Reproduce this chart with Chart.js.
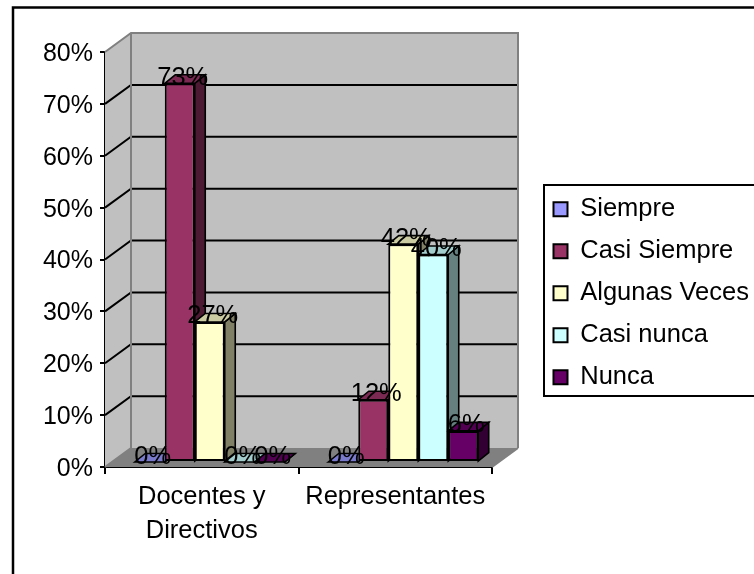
<!DOCTYPE html>
<html>
<head>
<meta charset="utf-8">
<style>html,body{margin:0;padding:0;background:#fff}canvas{display:block}</style>
<script src="https://cdn.jsdelivr.net/npm/chart.js@4"></script>
</head>
<body>
<canvas id="c" width="754" height="574"></canvas>
<script>
const categories = [["Docentes y", "Directivos"], "Representantes"];
const siempre = [0, 0];
const casiSiempre = [73, 12];
const algunasVeces = [27, 42];
const casiNunca = [0, 40];
const nunca = [0, 6];
const FONT = 'Liberation Sans, Arial, sans-serif';
const SIZE = 25;
const WIDE = 25.5;
const WALL = {dx: 26, dy: -19};
const PLANE = {dx: 8, dy: -5};
const BAR = {dx: 10.5, dy: -8.5};

function shade(hex, f) {
  const n = parseInt(hex.slice(1), 16);
  const c = [n >> 16, (n >> 8) & 255, n & 255].map(v => Math.round(v * f));
  return `rgb(${c[0]},${c[1]},${c[2]})`;
}
function poly(ctx, pts, fill, stroke, w) {
  ctx.beginPath();
  pts.forEach((p, i) => i ? ctx.lineTo(p[0], p[1]) : ctx.moveTo(p[0], p[1]));
  ctx.closePath();
  if (fill) { ctx.fillStyle = fill; ctx.fill(); }
  if (stroke) { ctx.strokeStyle = stroke; ctx.lineWidth = w; ctx.stroke(); }
}
const threeD = {
  id: 'threeD',
  beforeDraw(chart) {
    const ctx = chart.ctx;
    ctx.save();
    ctx.strokeStyle = '#000';
    ctx.lineWidth = 2.5;
    ctx.strokeRect(13, 7.5, 760, 600);
    ctx.lineWidth = 2;
    ctx.strokeRect(544, 185, 240, 211);
    ctx.restore();
  },
  afterLayout(chart) {
    const l = chart.legend;
    l.left = 537; l.right = 754; l.top = 180; l.bottom = 574;
  },
  beforeDatasetsDraw(chart) {
    const ctx = chart.ctx, a = chart.chartArea, y = chart.scales.y;
    const {dx, dy} = WALL;
    ctx.save();
    poly(ctx, [[a.left + dx, a.top + dy], [a.right + dx, a.top + dy], [a.right + dx, a.bottom + dy], [a.left + dx, a.bottom + dy]], '#C0C0C0');
    poly(ctx, [[a.left, a.top], [a.left + dx, a.top + dy], [a.left + dx, a.bottom + dy], [a.left, a.bottom]], '#C0C0C0');
    poly(ctx, [[a.left, a.bottom], [a.left + dx, a.bottom + dy], [a.right + dx, a.bottom + dy], [a.right, a.bottom]], '#808080');
    ctx.lineWidth = 2;
    ctx.strokeStyle = '#000';
    y.ticks.forEach(t => {
      if (t.value === 0 || t.value === y.max) return;
      const p = y.getPixelForValue(t.value);
      ctx.beginPath();
      ctx.moveTo(a.left, p);
      ctx.lineTo(a.left + dx, p + dy);
      ctx.lineTo(a.right + dx, p + dy);
      ctx.stroke();
    });
    ctx.strokeStyle = '#808080';
    ctx.beginPath();
    ctx.moveTo(a.left, a.top);
    ctx.lineTo(a.left + dx, a.top + dy);
    ctx.lineTo(a.right + dx, a.top + dy);
    ctx.lineTo(a.right + dx, a.bottom + dy);
    ctx.moveTo(a.left + dx, a.top + dy);
    ctx.lineTo(a.left + dx, a.bottom + dy);
    ctx.moveTo(a.left, a.bottom);
    ctx.lineTo(a.left + dx, a.bottom + dy);
    ctx.moveTo(a.right, a.bottom);
    ctx.lineTo(a.right + dx, a.bottom + dy);
    ctx.stroke();
    // receding faces of every bar, left to right; the library paints the fronts over them
    ctx.translate(PLANE.dx, PLANE.dy);
    ctx.lineJoin = 'miter';
    const n = chart.data.labels.length;
    for (let k = 0; k < n; k++) {
      chart.data.datasets.forEach((ds, i) => {
        const b = chart.getDatasetMeta(i).data[k];
        const l = b.x - b.width / 2, r = b.x + b.width / 2, t = b.y, base = b.base;
        poly(ctx, [[r, t], [r + BAR.dx, t + BAR.dy], [r + BAR.dx, base + BAR.dy], [r, base]], shade(ds.backgroundColor, 0.5), '#000', 1.6);
        poly(ctx, [[l, t], [l + BAR.dx, t + BAR.dy], [r + BAR.dx, t + BAR.dy], [r, t]], shade(ds.backgroundColor, 0.8), '#000', 1.6);
      });
    }
    ctx.restore();
  },
  beforeDatasetDraw(chart) {
    chart.ctx.save();
    chart.ctx.translate(PLANE.dx, PLANE.dy);
  },
  afterDatasetDraw(chart) {
    chart.ctx.restore();
  },
  afterDatasetsDraw(chart) {
    const ctx = chart.ctx;
    ctx.save();
    ctx.fillStyle = '#000';
    ctx.font = `${WIDE}px ${FONT}`;
    ctx.textAlign = 'center';
    ctx.textBaseline = 'middle';
    chart.data.datasets.forEach((ds, i) => {
      const m = chart.getDatasetMeta(i);
      m.data.forEach((b, k) => {
        ctx.fillText(ds.data[k] + '%', b.x + PLANE.dx + 3, b.y + PLANE.dy - 5.5);
      });
    });
    ctx.restore();
  }
};
const seriesStyle = (label, data, color) => ({
  label, data,
  backgroundColor: color,
  borderColor: '#000',
  borderWidth: 2,
  borderSkipped: false,
  clip: false,
  categoryPercentage: 0.775,
  barPercentage: 1
});
new Chart(document.getElementById('c'), {
  type: 'bar',
  data: {
    labels: categories,
    datasets: [
      seriesStyle('Siempre', siempre, '#9999FF'),
      seriesStyle('Casi Siempre', casiSiempre, '#993366'),
      seriesStyle('Algunas Veces', algunasVeces, '#FFFFCC'),
      seriesStyle('Casi nunca', casiNunca, '#CCFFFF'),
      seriesStyle('Nunca', nunca, '#660066')
    ]
  },
  plugins: [threeD],
  options: {
    responsive: false,
    animation: false,
    devicePixelRatio: 1,
    layout: {padding: {left: 0, top: 52, right: 112, bottom: 0}},
    plugins: {
      tooltip: {enabled: false},
      title: {display: false},
      legend: {
        display: true,
        position: 'right',
        align: 'start',
        maxWidth: 150,
        labels: {
          boxWidth: 14,
          boxHeight: 14,
          padding: 16.5,
          color: '#000',
          font: {family: FONT, size: WIDE}
        }
      }
    },
    scales: {
      x: {
        type: 'category',
        afterFit(s) { s.height = 107; s.paddingLeft = s.paddingRight = s.paddingTop = s.paddingBottom = 0; },
        grid: {drawOnChartArea: false, drawTicks: true, tickLength: 7, color: '#000', lineWidth: 2},
        border: {color: '#000', width: 2},
        ticks: {color: '#000', maxRotation: 0, autoSkip: false, padding: 6, font: {family: FONT, size: WIDE, lineHeight: 1.34}}
      },
      y: {
        min: 0,
        max: 80,
        afterFit(s) { s.width = 105; s.paddingLeft = s.paddingRight = s.paddingTop = s.paddingBottom = 0; },
        grid: {drawOnChartArea: false, drawTicks: true, tickLength: 5, color: '#000', lineWidth: 2},
        border: {color: '#000', width: 2},
        ticks: {stepSize: 10, color: '#000', padding: 7, labelOffset: 2, callback: v => v + '%', font: {family: FONT, size: SIZE}}
      }
    }
  }
});
</script>
</body>
</html>
